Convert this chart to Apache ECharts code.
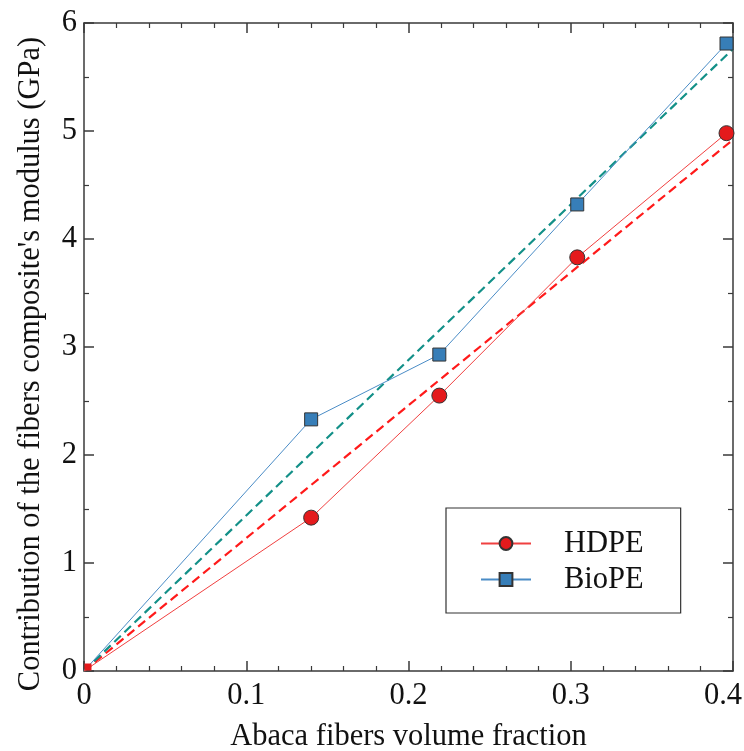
<!DOCTYPE html>
<html><head><meta charset="utf-8">
<script src="https://cdn.jsdelivr.net/npm/echarts@6/dist/echarts.min.js"></script>
<style>html,body{margin:0;padding:0;background:#fff}#c{width:744px;height:751px}</style>
</head><body><div id="c"></div>
<script>
const xVals = [0, 0.14, 0.219, 0.304, 0.396];
const hdpe = [0, 1.42, 2.55, 3.83, 4.98];
const biope = [0, 2.33, 2.93, 4.32, 5.81];
const fitX = [0, 0.4];
const hdpeFit = [0, 4.92];
const biopeFit = [0, 5.76];
const xTitle = 'Abaca fibers volume fraction';
const yTitle = "Contribution of the fibers composite's modulus (GPa)";

const FONT = '"Liberation Serif", "DejaVu Serif", serif';
const axisCol = '#3a3a3a';
// marker at the origin is clipped by the axes in the original: show only a small corner of it
const pair = (xs, ys, originStyle) => xs.map((x, i) =>
  (x === 0 && ys[i] === 0) ? Object.assign({value: [x, ys[i]]}, originStyle) : [x, ys[i]]);

const chart = echarts.init(document.getElementById('c'));
const baseAxis = {
  axisLine: {show: true, onZero: false, lineStyle: {color: axisCol, width: 1.5}},
  axisTick: {show: true, inside: true, length: 10, lineStyle: {color: axisCol, width: 1.5}},
  minorTick: {show: true, splitNumber: 5, length: 5, lineStyle: {color: axisCol, width: 1.2}},
  splitLine: {show: false},
};
chart.setOption({
  animation: false,
  grid: {left: 84, top: 23, right: 11, bottom: 80, outerBoundsMode: 'none', containLabel: false},
  legend: {
    data: ['HDPE', 'BioPE'],
    orient: 'vertical',
    left: 446, top: 508,
    padding: [20, 37, 18, 34],
    itemGap: 5,
    itemWidth: 50, itemHeight: 16,
    borderColor: '#333', borderWidth: 1.2,
    textStyle: {fontFamily: FONT, fontSize: 30.5, color: '#111', padding: [0, 0, 0, 28], lineHeight: 28}
  },
  xAxis: [
    Object.assign({}, baseAxis, {type: 'value', min: 0, max: 0.4, interval: 0.1, position: 'bottom',
      name: xTitle, nameLocation: 'middle', nameGap: 50,
      nameTextStyle: {fontFamily: FONT, fontSize: 30.5, color: '#111'},
      axisLabel: {fontFamily: FONT, fontSize: 30.5, color: '#111', margin: 9,
        formatter: v => v === 0 ? '0' : (v >= 0.4 ? '{last|' + (+v.toFixed(1)) + '}' : String(+v.toFixed(1))),
        rich: {last: {fontFamily: FONT, fontSize: 30.5, color: '#111', padding: [0, 20, 0, 0]}}}}),
    Object.assign({}, baseAxis, {type: 'value', min: 0, max: 0.4, interval: 0.1, position: 'top',
      axisLabel: {show: false}})
  ],
  yAxis: [
    Object.assign({}, baseAxis, {type: 'value', min: 0, max: 6, interval: 1, position: 'left',
      minorTick: Object.assign({}, baseAxis.minorTick, {splitNumber: 2}),
      name: yTitle, nameLocation: 'middle', nameGap: 38, nameRotate: 90,
      nameTextStyle: {fontFamily: FONT, fontSize: 30.5, color: '#111', padding: [0, 34, 0, 0]},
      axisLabel: {fontFamily: FONT, fontSize: 30.5, color: '#111', margin: 7}}),
    Object.assign({}, baseAxis, {type: 'value', min: 0, max: 6, interval: 1, position: 'right',
      minorTick: Object.assign({}, baseAxis.minorTick, {splitNumber: 2}),
      axisLabel: {show: false}})
  ],
  series: [
    {name: 'HDPE fit', type: 'line', data: pair(fitX, hdpeFit, {}), symbol: 'none',
      lineStyle: {color: '#ff1a1a', width: 2.2, type: [9, 5]}, z: 2},
    {name: 'BioPE fit', type: 'line', data: pair(fitX, biopeFit, {}), symbol: 'none',
      lineStyle: {color: '#139088', width: 2.2, type: [9, 5]}, z: 2},
    {name: 'BioPE', type: 'line', data: pair(xVals, biope, {symbol: 'none'}), symbol: 'rect', symbolSize: 13,
      lineStyle: {color: '#4a8cc6', width: 1},
      itemStyle: {color: '#377eb8', borderColor: '#333', borderWidth: 1}, z: 3},
    {name: 'HDPE', type: 'line',
      data: pair(xVals, hdpe, {symbol: 'rect', symbolSize: 7, symbolOffset: [4, -4], itemStyle: {borderWidth: 0}}),
      symbol: 'circle', symbolSize: 15,
      lineStyle: {color: '#f04040', width: 1},
      itemStyle: {color: '#e41a1c', borderColor: '#333', borderWidth: 1}, z: 3}
  ]
});
</script></body></html>
